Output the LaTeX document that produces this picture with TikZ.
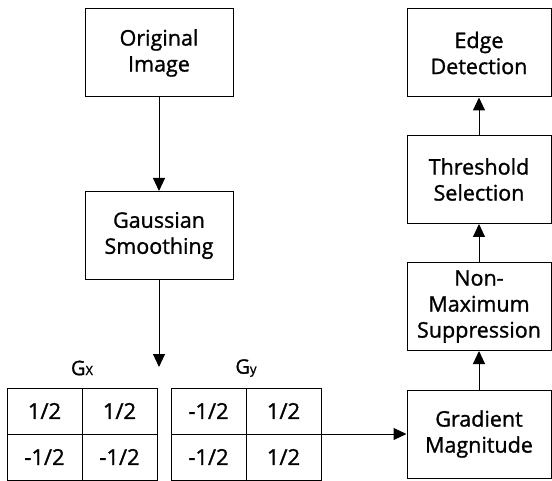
\documentclass[tikz,border=0pt]{standalone}
\usepackage{fontspec}
\setmainfont{Open Sans}[FakeBold=1.2]
\usepackage{tikz}
\usetikzlibrary{positioning, arrows.meta}

\tikzset{
  stage/.style={draw=black, line width=1pt, minimum width=148pt, minimum height=88pt,
    align=center, font=\fontsize{21.5}{26}\selectfont, inner sep=2pt},
  cell/.style={draw=black, line width=1pt, minimum width=75pt, minimum height=46pt,
    outer sep=0pt, inner sep=0pt, font=\fontsize{22}{24}\selectfont},
  flow/.style={line width=1pt, -{Triangle[length=13pt, width=12pt]}}
}

\begin{document}
\begin{tikzpicture}[x=1pt, y=-1pt]
  \useasboundingbox (0,0) rectangle (552,481);

  % left column
  \node[stage] (orig) at (159,53) {Original\\Image};
  \node[stage] (gauss) at (159,235.5) {Gaussian\\Smoothing};
  \coordinate (kern) at (159,367);

  % kernels
  \node[cell] (gx11) at (44.5,411) {1/2};
  \node[cell, right=0pt of gx11] (gx12) {1/2};
  \node[cell, below=0pt of gx11] (gx21) {-1/2};
  \node[cell, right=0pt of gx21] (gx22) {-1/2};
  \node[cell] (gy11) at (208.5,411) {-1/2};
  \node[cell, right=0pt of gy11] (gy12) {1/2};
  \node[cell, below=0pt of gy11] (gy21) {-1/2};
  \node[cell, right=0pt of gy21] (gy22) {1/2};
  \node[font=\fontsize{20}{22}\selectfont] (gxlabel) at (82,368) {G{\fontsize{13}{13}\selectfont X}};
  \node[font=\fontsize{20}{22}\selectfont] (gylabel) at (246,368) {G{\fontsize{13}{13}\selectfont y}};

  % right column
  \node[stage, minimum width=144pt] (grad) at (479,434) {Gradient\\Magnitude};
  \node[stage, minimum width=144pt] (nms) at (479,306.5) {Non-\\Maximum\\Suppression};
  \node[stage, minimum width=144pt] (thresh) at (479,179.5) {Threshold\\Selection};
  \node[stage, minimum width=144pt] (edge) at (479,53) {Edge\\Detection};

  \draw[flow] (orig) -- (gauss);
  \draw[flow] (gauss) -- (kern);
  \draw[flow] (gy12.south east) -- (grad.west);
  \draw[flow] (grad) -- (nms);
  \draw[flow] (nms) -- (thresh);
  \draw[flow] (thresh) -- (edge);
\end{tikzpicture}
\end{document}
